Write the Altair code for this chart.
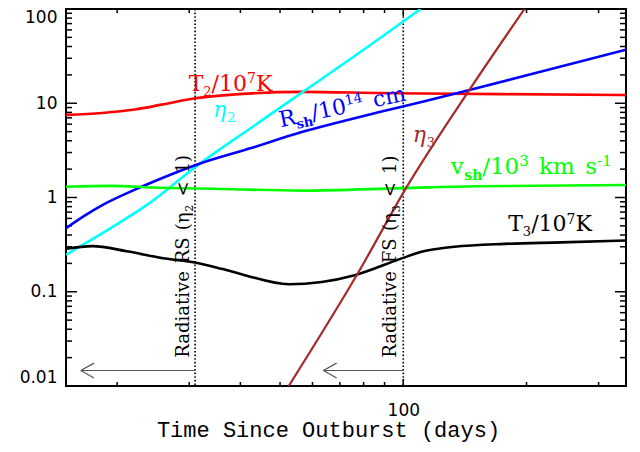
import altair as alt
import pandas as pd

# ---------------- data ----------------
t2_t = [15, 18.4, 22.1, 25.7, 31.0, 39.7, 56.5, 88.5, 110.8, 173.7, 350]
t2_v = [7.52, 7.89, 8.58, 9.67, 11.30, 12.50, 13.21, 12.83, 12.68, 12.50, 12.21]

eta2_t = [15, 18.4, 23.9, 31.9, 43.4, 88.5, 110.2]
eta2_v = [0.247, 0.419, 0.860, 2.30, 5.85, 50.5, 100]

rsh_t = [15, 16.7, 18.4, 21.75, 25.7, 31.9, 42.7, 56.5, 68.0, 88.5, 110.8, 144.3, 217.5, 350]
rsh_v = [0.472, 0.645, 0.829, 1.174, 1.603, 2.30, 3.37, 4.94, 6.13, 8.18, 10.31, 13.75, 21.7, 37.0]

vsh_t = [15, 19.4, 24.3, 36.0, 56.5, 99.1, 150, 350]
vsh_v = [1.302, 1.330, 1.277, 1.232, 1.183, 1.258, 1.317, 1.356]

t3_t = [15, 17.4, 21.1, 26.2, 31.0, 36.0, 41.0, 52.5, 63.2, 76.1, 99.1, 110.8, 121.9, 133.4, 176.6, 243.3, 350]
t3_v = [0.286, 0.305, 0.269, 0.225, 0.204, 0.175, 0.150, 0.120, 0.127, 0.150, 0.226, 0.265, 0.286, 0.300, 0.322, 0.334, 0.350]

eta3_t = [52.5, 77.7, 101.9, 144.0, 197.7]
eta3_v = [0.01, 0.161, 1.29, 13.2, 100]

# radiative-phase boundaries (days) and arrows
bound_t = [31.0, 100.0]
arrow_tip_t = [16.3, 63.8]
arrow_v = [0.0146, 0.0146]

# axis ticks
x_major = [100]
x_minor = [20, 30, 40, 50, 60, 70, 80, 90, 200, 300]
y_major = [0.01, 0.1, 1, 10, 100]
y_minor = [0.02, 0.03, 0.04, 0.05, 0.06, 0.07, 0.08, 0.09,
           0.2, 0.3, 0.4, 0.5, 0.6, 0.7, 0.8, 0.9,
           2, 3, 4, 5, 6, 7, 8, 9,
           20, 30, 40, 50, 60, 70, 80, 90]

RED, CYAN, BLUE, GREEN, BROWN, BLACK = "#ff0000", "#00ffff", "#0000ff", "#00ff00", "#a52a2a", "#000000"
SERIF = "DejaVu Serif"

W_PLOT, H_PLOT = 560, 377

xs = alt.Scale(type="log", domain=[15, 350], nice=False)
ys = alt.Scale(type="log", domain=[0.01, 100], nice=False)

X = alt.X("t:Q", scale=xs, axis=alt.Axis(
    values=x_major, format="d", ticks=False, domain=False, grid=False,
    labelFont="DejaVu Sans", labelFontSize=17, labelPadding=16, labelColor="black",
    title="Time Since Outburst (days)", titleFont="Liberation Mono", titleFontSize=22,
    titleFontWeight="normal", titleColor="black", titleX=262, titleY=50,
    titleAlign="center", titleBaseline="alphabetic"))
Y = alt.Y("v:Q", scale=ys, axis=alt.Axis(
    values=y_major, format="~g", labelFlush=True, ticks=False, domain=False, grid=False,
    labelFont="DejaVu Sans", labelFontSize=17, labelPadding=9, labelColor="black", title=None))


def series(ts, vs, color, width=2.6):
    df = pd.DataFrame({"t": ts, "v": vs})
    return alt.Chart(df).mark_line(color=color, strokeWidth=width, clip=True,
                                   interpolate="monotone").encode(x=X, y=Y)


# ---------- ticks (inward, IDL style) ----------
def yticks(vals, length):
    df = pd.DataFrame({"v": vals})
    left = alt.Chart(df).mark_rule(color="black", strokeWidth=1.5).encode(
        y=Y, x=alt.value(0), x2=alt.value(length))
    right = alt.Chart(df).mark_rule(color="black", strokeWidth=1.5).encode(
        y=Y, x=alt.value(W_PLOT - length), x2=alt.value(W_PLOT))
    return [left, right]


def xticks(vals, length):
    df = pd.DataFrame({"t": vals})
    bot = alt.Chart(df).mark_rule(color="black", strokeWidth=1.5).encode(
        x=X, y=alt.value(H_PLOT - length), y2=alt.value(H_PLOT))
    top = alt.Chart(df).mark_rule(color="black", strokeWidth=1.5).encode(
        x=X, y=alt.value(0), y2=alt.value(length))
    return [bot, top]


# ---------- labels with sub/superscripts ----------
WID = {' ': 0.45, '(': 0.390, ')': 0.390, '-': 0.338, '/': 0.337, '<': 0.838,
       'F': 0.695, 'K': 0.763, 'R': 0.734, 'S': 0.650, 'T': 0.668,
       'a': 0.596, 'c': 0.560, 'd': 0.640, 'e': 0.592, 'h': 0.644, 'i': 0.320,
       'k': 0.609, 'm': 0.948, 's': 0.514, 't': 0.402, 'v': 0.592, 'η': 0.644}


def tw(s):
    return sum(WID.get(c, 0.636) for c in s)


def label(t, v, segs, color, size=22, angle=0, dy0=0.0):
    row = pd.DataFrame({"t": [t], "v": [v]})
    layers = []
    x = 0.0
    for text, kind in segs:
        bold = False
        if kind == "n":
            fs, off = size, 0.0
        elif kind in ("sub", "subb"):
            fs, off = round(size * 0.6), size * 0.23
            bold = kind == "subb"
        else:
            fs, off = round(size * 0.64), -size * 0.36
        words = text.split(" ")
        for i, w in enumerate(words):
            if i > 0:
                x += WID[' '] * size
            if w:
                layers.append(alt.Chart(row).mark_text(
                    text=w, dx=x, dy=dy0 + off, angle=angle, align="left",
                    baseline="alphabetic", fontSize=fs, font=SERIF, color=color,
                    fontStyle="italic" if w == "η" else "normal",
                    fontWeight="bold" if bold else "normal").encode(x=X, y=Y))
                x += tw(w) * fs * (1.1 if bold else 1.0)
    return layers


# ---------- boundaries & arrows ----------
bdf = pd.DataFrame({"t": bound_t})
bound_lines = alt.Chart(bdf).mark_rule(color="black", strokeWidth=1.6,
                                       strokeDash=[1.6, 2.0]).encode(x=X)
adf = pd.DataFrame({"t": bound_t, "t2": arrow_tip_t, "v": arrow_v})
shafts = alt.Chart(adf).mark_rule(color="#555555", strokeWidth=1.2).encode(
    x=X, x2="t2:Q", y=Y)
hdf = pd.DataFrame({"t": arrow_tip_t, "v": arrow_v})
heads = alt.Chart(hdf).mark_point(shape="M 0 0 L 1 -0.56 M 0 0 L 1 0.56", size=700,
                                  filled=False, color="#555555", strokeWidth=1.2,
                                  opacity=1).encode(x=X, y=Y)

layers = []
layers += yticks(y_major, 11) + yticks(y_minor, 6)
layers += xticks(x_major, 7) + xticks(x_minor, 4)
layers += [bound_lines, shafts, heads]
layers += [series(t2_t, t2_v, RED), series(eta2_t, eta2_v, CYAN), series(rsh_t, rsh_v, BLUE),
           series(vsh_t, vsh_v, GREEN), series(t3_t, t3_v, BLACK), series(eta3_t, eta3_v, BROWN, 2.2)]

layers += label(29.9, 13.5, [("T", "n"), ("2", "sub"), ("/10", "n"), ("7", "sup"), ("K", "n")], RED)
layers += label(34.3, 7.08, [("η", "n"), ("2", "sub")], CYAN)
layers += label(50.2, 5.57, [("R", "n"), ("sh", "subb"), ("/10", "n"), ("14", "sup"), (" cm", "n")],
                BLUE, angle=348)
layers += label(105.4, 3.89, [("η", "n"), ("3", "sub")], BROWN)
layers += label(130.6, 1.764, [("v", "n"), ("sh", "subb"), ("/10", "n"), ("3", "sup"),
                               (" km s", "n"), ("-1", "sup")], GREEN, size=23)
layers += label(180.4, 0.4365, [("T", "n"), ("3", "sub"), ("/10", "n"), ("7", "sup"), ("K", "n")], BLACK)
layers += label(bound_t[0], 0.02, [("Radiative RS (η", "n"), ("2", "sub"), (" < 1)", "n")],
                BLACK, size=18, angle=270, dy0=-6)
layers += label(bound_t[1], 0.02, [("Radiative FS (η", "n"), ("3", "sub"), (" < 1)", "n")],
                BLACK, size=18, angle=270, dy0=-7)

chart = alt.layer(*layers).properties(
    width=W_PLOT, height=H_PLOT,
    autosize=alt.AutoSizeParams(type="none"),
    padding={"left": 58, "top": 1, "right": 6, "bottom": 58},
    background="white",
).configure_view(stroke="black", strokeWidth=2)

chart.save("out.html", embed_options={"renderer": "svg", "actions": False})
